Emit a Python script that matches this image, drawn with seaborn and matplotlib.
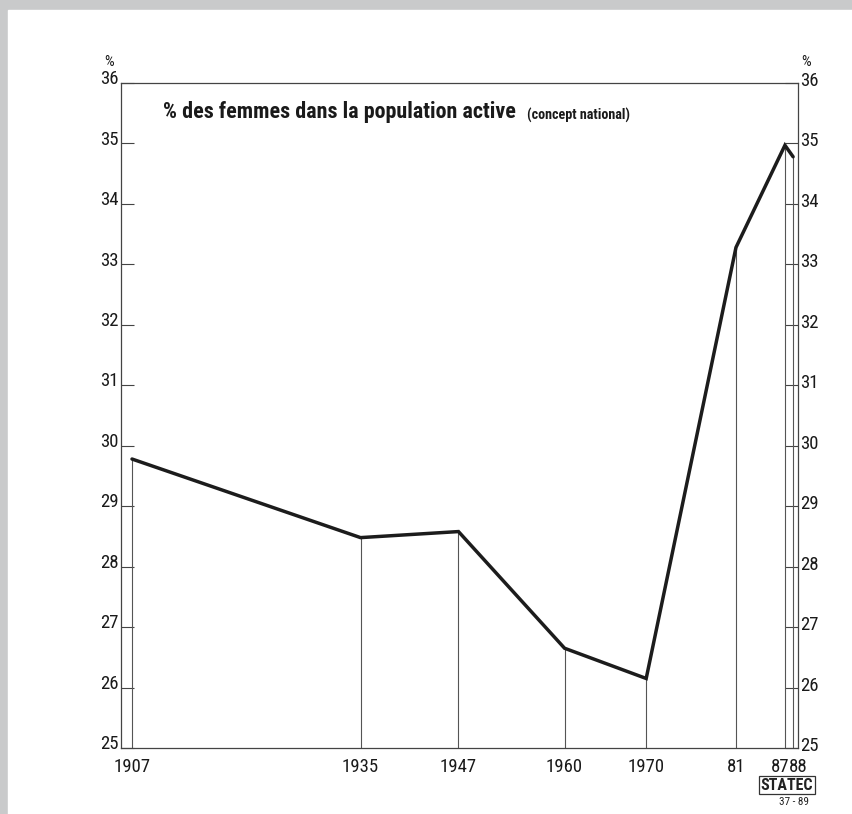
"""% des femmes dans la population active (concept national), 1907-1988."""
import matplotlib
matplotlib.use("Agg")
import matplotlib.pyplot as plt
import matplotlib.patches as mpatches
import matplotlib.transforms as mtrans
from matplotlib import font_manager as fm
import pandas as pd
import seaborn as sns

YEARS = [1907, 1935, 1947, 1960, 1970, 1981, 1987, 1988]
SHARE = [29.78, 28.48, 28.58, 26.65, 26.15, 33.28, 34.97, 34.78]
YEAR_LABELS = ["1907", "1935", "1947", "1960", "1970", "81", "87", "88"]
Y_TICKS = list(range(25, 37))

TITLE = "% des femmes dans la population active"
SUBTITLE = "(concept national)"


def pick_font():
    names = {f.name for f in fm.fontManager.ttflist}
    for cand in ["Liberation Sans Narrow", "Roboto Condensed", "DejaVu Sans Condensed",
                 "Noto Sans Condensed", "Open Sans Condensed", "Arial Narrow"]:
        if cand in names:
            return cand, True
    for n in sorted(names):
        if "Condensed" in n or "Narrow" in n:
            return n, True
    return "DejaVu Sans", False


FONT_NAME, CONDENSED = pick_font()
sns.set_style("white")
plt.rcParams["font.family"] = [FONT_NAME, "DejaVu Sans"]
FS = 13.5 if CONDENSED else 10.5

df = pd.DataFrame({"year": YEARS, "share": SHARE})

fig = plt.figure(figsize=(8.53, 8.14), dpi=100, facecolor="#c9cacb")
fig.patches.append(mpatches.Rectangle((8 / 853, 0), 1, (814 - 10) / 814,
                                      transform=fig.transFigure, color="white",
                                      zorder=-10))
ax = fig.add_axes([121 / 853, 66 / 814, 677 / 853, 665 / 814])
ax.set_facecolor("none")

# drop lines from each observation to the base
ax.vlines(df["year"], 25, df["share"], color="#555555", lw=0.8, zorder=1)
sns.lineplot(data=df, x="year", y="share", ax=ax, color="#1c1c1c", lw=2.5,
             zorder=3, solid_joinstyle="miter")

ax.set_xlim(1905.65, 1988.6)
ax.set_ylim(25, 36)
for s in ax.spines.values():
    s.set_color("#444444"); s.set_linewidth(0.9)

ax.set_xticks(YEARS)
ax.set_xticklabels(YEAR_LABELS, fontsize=FS, color="#1a1a1a")
ax.tick_params(axis="x", direction="out", length=4, width=0.8, pad=3,
               color="#444444")
# 87 / 88 sit side by side under their two close ticks
xl = ax.get_xticklabels()
xl[-2].set_ha("right")
xl[-2].set_transform(xl[-2].get_transform() + mtrans.ScaledTranslation(5 / 100, 0, fig.dpi_scale_trans))
xl[-1].set_ha("left")
xl[-1].set_transform(xl[-1].get_transform() + mtrans.ScaledTranslation(-4 / 100, 0, fig.dpi_scale_trans))

ax.set_yticks(Y_TICKS)
ax.set_yticklabels([])
ax.tick_params(axis="y", direction="in", length=9.5, width=0.8,
               left=True, right=True, color="#444444")
ax.set_xlabel(""); ax.set_ylabel("")

ytr = ax.get_yaxis_transform()
for v in Y_TICKS:
    ax.text(-0.004, v - 0.02, str(v), transform=ytr, ha="right", va="baseline",
            fontsize=FS, color="#1a1a1a")
    ax.text(1.003, v - 0.05, str(v), transform=ytr, ha="left", va="baseline",
            fontsize=FS, color="#1a1a1a")
ax.text(-0.017, 36.28, "%", transform=ytr, ha="center", va="baseline",
        fontsize=11, color="#1a1a1a")
ax.text(1.012, 36.28, "%", transform=ytr, ha="center", va="baseline",
        fontsize=11, color="#1a1a1a")

t = ax.text(0.062, 0.947, TITLE, transform=ax.transAxes, ha="left",
            va="baseline", fontsize=15.8 if CONDENSED else 13, fontweight="bold",
            color="#1a1a1a")
ax.annotate(SUBTITLE, xy=(1, 0), xycoords=t, xytext=(8, 0),
            textcoords="offset points", ha="left", va="bottom",
            fontsize=10.2 if CONDENSED else 8.5, fontweight="bold", color="#1a1a1a")

# publisher mark
fig.text(787 / 853, 1 - 785 / 814, "STATEC", ha="center", va="center",
         fontsize=11.5 if CONDENSED else 8, fontweight="bold", color="#222222",
         bbox=dict(boxstyle="square,pad=0.12", fc="white", ec="#333333", lw=0.9))
fig.text(794 / 853, 1 - 802 / 814, "37 - 89", ha="center", va="center",
         fontsize=8 if CONDENSED else 6.5, color="#222222")

fig.savefig("out.png", dpi=100, facecolor=fig.get_facecolor())
